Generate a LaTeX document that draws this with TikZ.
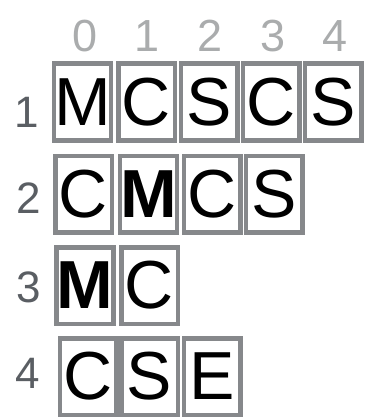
\documentclass[tikz,border=0pt]{standalone}
\usepackage{fontspec}
\setmainfont{Liberation Sans}
\definecolor{cellgray}{RGB}{134,136,139}
\definecolor{headgray}{RGB}{170,172,173}
\definecolor{rowgray}{RGB}{90,94,99}
\begin{document}
\begin{tikzpicture}[x=1pt,y=-1pt,
  cell/.style={draw=cellgray,line width=4.5pt,inner sep=0pt,
    minimum width=56.5pt,minimum height=76.5pt,
    font=\fontsize{68}{68}\selectfont},
  colhead/.style={text=headgray,inner sep=0pt,font=\fontsize{45}{45}\selectfont},
  rowhead/.style={text=rowgray,inner sep=0pt,font=\fontsize{44}{44}\selectfont}]
\useasboundingbox (0,0) rectangle (364,417);
% column indices
\node[colhead] (h0) at (85,36) {0};
\node[colhead] (h1) at (147,36) {1};
\node[colhead] (h2) at (210,36) {2};
\node[colhead] (h3) at (273,36) {3};
\node[colhead] (h4) at (335,36) {4};
% row 1
\node[rowhead] (r1) at (27,112) {1};
\node[cell] (c10) at (82.5,102) {M};
\node[cell] (c11) at (146.5,102) {C};
\node[cell] (c12) at (209,102) {S};
\node[cell] (c13) at (271,102) {C};
\node[cell] (c14) at (333,102) {S};
% row 2
\node[rowhead] (r2) at (29,198) {2};
\node[cell] (c20) at (83.5,194) {C};
\node[cell,font=\fontsize{68}{68}\selectfont\bfseries] (c21) at (148.5,194) {M};
\node[cell] (c22) at (212,194) {C};
\node[cell] (c23) at (274,194) {S};
% row 3
\node[rowhead] (r3) at (29,287) {3};
\node[cell,font=\fontsize{68}{68}\selectfont\bfseries] (c30) at (85,285.5) {M};
\node[cell] (c31) at (149.5,285.5) {C};
% row 4
\node[rowhead] (r4) at (28,373) {4};
\node[cell] (c40) at (88,376.5) {C};
\node[cell] (c41) at (149.5,376.5) {S};
\node[cell] (c42) at (212,376.5) {E};
\end{tikzpicture}
\end{document}
